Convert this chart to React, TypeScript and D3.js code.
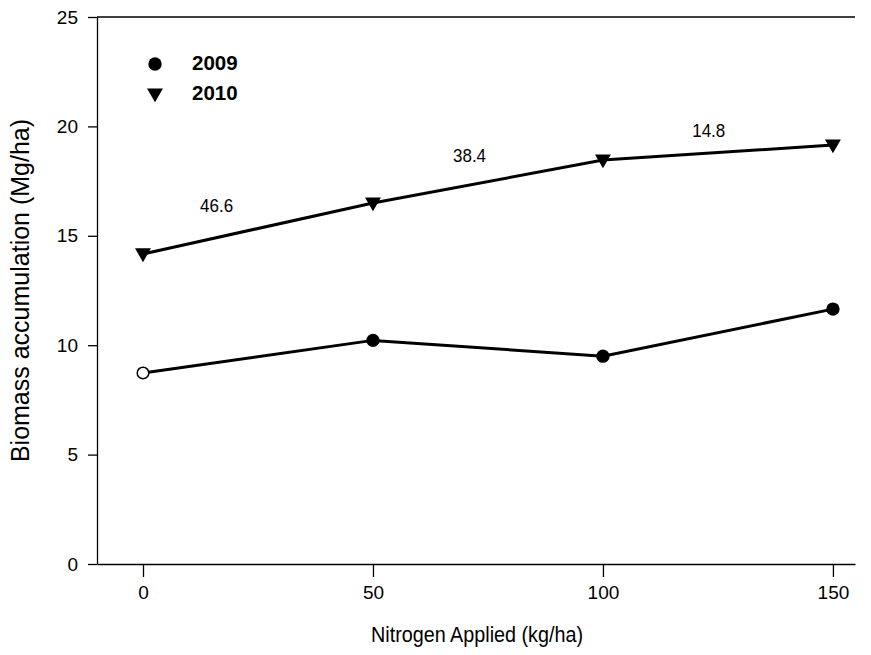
import React, { useEffect, useRef } from 'react';
import * as d3 from 'd3';

const nitrogen = [0, 50, 100, 150];
const biomass2009 = [8.73, 10.22, 9.5, 11.65];
const biomass2010 = [14.17, 16.5, 18.46, 19.15];
const segmentLabels = ['46.6', '38.4', '14.8'];
const segmentLabelPos = [
  { x: 16, y: 16.3 },
  { x: 71, y: 18.6 },
  { x: 123, y: 19.75 },
];
const xTicks = [0, 50, 100, 150];
const yTicks = [0, 5, 10, 15, 20, 25];

const App: React.FC = () => {
  const svgRef = useRef<SVGSVGElement>(null);
  const width = 871;
  const height = 655;

  useEffect(() => {
    document.body.style.margin = '0';
    if (!svgRef.current) return;
    const svg = d3.select(svgRef.current);
    svg.selectAll('*').remove();

    const font = '"Liberation Sans", Arial, sans-serif';
    const left = 97, right = 855, top = 17, bottom = 564;

    const x = d3.scaleLinear().domain([-10, 154.8]).range([left, right]);
    const y = d3.scaleLinear().domain([0, 25]).range([bottom, top]);

    const g = svg.append('g').attr('font-family', font);

    // top frame line (no right side)
    g.append('line').attr('x1', left).attr('x2', right).attr('y1', top).attr('y2', top)
      .attr('stroke', '#000').attr('stroke-width', 1.3);

    const yAxis = g.append('g').attr('transform', `translate(${left},0)`)
      .call(d3.axisLeft(y).tickValues(yTicks).tickSize(9).tickPadding(10).tickSizeOuter(0));
    yAxis.select('.domain').attr('stroke-width', 1.3);
    yAxis.selectAll('.tick line').attr('stroke-width', 1.3);
    yAxis.selectAll('.tick text').attr('font-size', 19).attr('font-family', font).attr('fill', '#000');

    const xAxis = g.append('g').attr('transform', `translate(0,${bottom})`)
      .call(d3.axisBottom(x).tickValues(xTicks).tickSize(13).tickPadding(9).tickSizeOuter(0));
    xAxis.select('.domain').attr('stroke-width', 1.3);
    xAxis.selectAll('.tick line').attr('stroke-width', 1.3);
    xAxis.selectAll('.tick text').attr('font-size', 19).attr('font-family', font).attr('fill', '#000');

    const line = d3.line<number>().x((_, i) => x(nitrogen[i])).y(d => y(d));

    g.append('path').datum(biomass2009).attr('d', line).attr('fill', 'none')
      .attr('stroke', '#000').attr('stroke-width', 3);
    g.append('path').datum(biomass2010).attr('d', line).attr('fill', 'none')
      .attr('stroke', '#000').attr('stroke-width', 3);

    const tri = d3.symbol().type(d3.symbolTriangle).size(110);

    g.selectAll('circle.p2009').data(biomass2009).join('circle')
      .attr('class', 'p2009')
      .attr('cx', (_, i) => x(nitrogen[i]))
      .attr('cy', d => y(d))
      .attr('r', (_, i) => (i === 0 ? 5.8 : 6.7))
      .attr('fill', (_, i) => (i === 0 ? '#fff' : '#000'))
      .attr('stroke', '#000')
      .attr('stroke-width', (_, i) => (i === 0 ? 1.5 : 0));

    g.selectAll('path.p2010').data(biomass2010).join('path')
      .attr('class', 'p2010')
      .attr('d', tri)
      .attr('transform', (d, i) => `translate(${x(nitrogen[i])},${y(d) - 1}) rotate(180)`)
      .attr('fill', '#000');

    g.selectAll('text.seg').data(segmentLabels).join('text')
      .attr('class', 'seg')
      .attr('x', (_, i) => x(segmentLabelPos[i].x))
      .attr('y', (_, i) => y(segmentLabelPos[i].y))
      .attr('text-anchor', 'middle')
      .attr('dominant-baseline', 'middle')
      .attr('font-size', 19)
      .attr('textLength', 33)
      .attr('lengthAdjust', 'spacingAndGlyphs')
      .text(d => d);

    // legend
    const legend = g.append('g');
    legend.append('circle').attr('cx', 155).attr('cy', 64).attr('r', 6.7).attr('fill', '#000');
    legend.append('path').attr('d', tri).attr('transform', 'translate(155,93) rotate(180)').attr('fill', '#000');
    legend.append('text').attr('x', 192).attr('y', 65).attr('dominant-baseline', 'middle')
      .attr('font-size', 20.5).attr('font-weight', 'bold').text('2009');
    legend.append('text').attr('x', 192).attr('y', 94.5).attr('dominant-baseline', 'middle')
      .attr('font-size', 20.5).attr('font-weight', 'bold').text('2010');

    // axis titles
    g.append('text').attr('x', 477).attr('y', 636)
      .attr('text-anchor', 'middle').attr('dominant-baseline', 'middle')
      .attr('font-size', 22)
      .attr('textLength', 212)
      .attr('lengthAdjust', 'spacingAndGlyphs')
      .text('Nitrogen Applied (kg/ha)');
    g.append('text').attr('transform', `translate(22,${(top + bottom) / 2}) rotate(-90)`)
      .attr('text-anchor', 'middle').attr('dominant-baseline', 'middle')
      .attr('font-size', 25).text('Biomass accumulation (Mg/ha)');
  }, []);

  return <svg ref={svgRef} width={width} height={height} style={{ display: 'block' }}></svg>;
};

export default App;
